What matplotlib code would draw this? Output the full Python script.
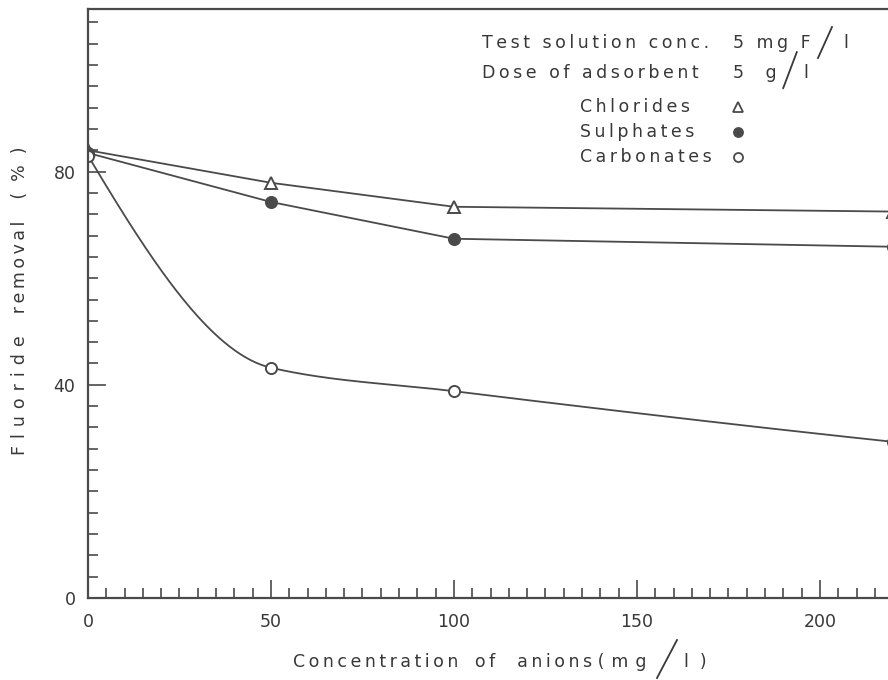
import numpy as np
import matplotlib
matplotlib.use('Agg')
import matplotlib.pyplot as plt
from matplotlib.lines import Line2D
from matplotlib.ticker import MultipleLocator

# concentration of anions (mg/l)
conc = [0, 50, 100, 220]
chlorides = [84.0, 77.9, 73.4, 72.5]
sulphates = [83.5, 74.3, 67.4, 65.9]
carbonates = [83.0, 43.2, 38.8, 29.3]

x_ticks = [0, 50, 100, 150, 200]
y_ticks = [0, 40, 80]

ink = '#4a4a4a'
txt = '#383838'
THIN = '\u2009'


def spaced(s, n=1):
    # wide lettering like the stencil text in the scan
    return (THIN * n).join(s)


def pchip(x, y, xs):
    # monotone cubic through the measured points, only used to draw the curve
    x = np.asarray(x, float)
    y = np.asarray(y, float)
    h = np.diff(x)
    d = np.diff(y) / h
    m = np.zeros_like(y)
    for k in range(1, len(x) - 1):
        if d[k - 1] * d[k] > 0:
            w1 = 2 * h[k] + h[k - 1]
            w2 = h[k] + 2 * h[k - 1]
            m[k] = (w1 + w2) / (w1 / d[k - 1] + w2 / d[k])
    m[0] = ((2 * h[0] + h[1]) * d[0] - h[0] * d[1]) / (h[0] + h[1])
    if np.sign(m[0]) != np.sign(d[0]):
        m[0] = 0
    m[-1] = ((2 * h[-1] + h[-2]) * d[-1] - h[-1] * d[-2]) / (h[-1] + h[-2])
    if np.sign(m[-1]) != np.sign(d[-1]):
        m[-1] = 0
    idx = np.clip(np.searchsorted(x, xs) - 1, 0, len(x) - 2)
    t = (xs - x[idx]) / h[idx]
    h00 = 2 * t**3 - 3 * t**2 + 1
    h10 = t**3 - 2 * t**2 + t
    h01 = -2 * t**3 + 3 * t**2
    h11 = t**3 - t**2
    return h00 * y[idx] + h10 * h[idx] * m[idx] + h01 * y[idx + 1] + h11 * h[idx] * m[idx + 1]


plt.rcParams['font.family'] = ['DejaVu Sans']
fig = plt.figure(figsize=(8.88, 6.80), dpi=100)
ax = fig.add_axes([88 / 888, 1 - 598 / 680, 800 / 888, 589.5 / 680])

xs = np.linspace(conc[0], conc[-1], 600)
series = [(chlorides, '^', 'white'), (sulphates, 'o', ink), (carbonates, 'o', 'white')]
for vals, mk, fc in series:
    if vals is carbonates:
        ax.plot(xs, pchip(conc, vals, xs), color=ink, lw=1.3)
    else:
        ax.plot(conc, vals, color=ink, lw=1.3)
    ax.plot(conc, vals, linestyle='none', marker=mk, ms=8 if mk == 'o' else 9,
            mfc=fc, mec=ink, mew=1.4)

ax.set_xlim(0, 218.6)
ax.set_ylim(0, 110.6)
ax.spines['right'].set_visible(False)
for s in ['left', 'bottom', 'top']:
    ax.spines[s].set_color(ink)
    ax.spines[s].set_linewidth(1.6)

ax.xaxis.set_minor_locator(MultipleLocator(5))
ax.yaxis.set_minor_locator(MultipleLocator(4))
ax.set_xticks(x_ticks)
ax.set_yticks(y_ticks)
ax.tick_params(which='both', direction='in', color=ink, width=1.2, top=False, right=False,
               labelcolor=txt, labelsize=12.5)
ax.tick_params(which='major', length=13)
ax.tick_params(which='minor', length=7)
ax.tick_params(axis='x', pad=11)
ax.tick_params(axis='y', pad=9)

# axis titles (the big slashes are drawn as strokes, like the hand lettering)
ax.set_xlabel(spaced('Concentration') + '   ' + spaced('of') + '    ' + spaced('anions')
              + ' ' + spaced('(mg', 2), fontsize=12.5, color=txt)
ax.xaxis.set_label_coords((293 - 88) / 800, -0.109)
ax.xaxis.label.set_va('center')
ax.xaxis.label.set_ha('left')
ax.text((684 - 88) / 800, -0.109, 'l  )', transform=ax.transAxes,
        fontsize=12.5, color=txt, va='center')
fig.add_artist(Line2D([657 / 888, 677 / 888], [1 - 678 / 680, 1 - 640 / 680],
                      transform=fig.transFigure, color=txt, lw=1.3))
ax.set_ylabel(spaced('Fluoride', 2) + '    ' + spaced('removal') + '    ' + '(  %  )',
              fontsize=12.5, color=txt)
ax.yaxis.set_label_coords(-0.085, 0.505)
ax.yaxis.label.set_va('center')

# key block
tkw = dict(transform=ax.transAxes, fontsize=12.5, color=txt, va='center')
ax.text(0.4925, 0.9415, spaced('Test solution conc.'), **tkw)
ax.text(0.806, 0.9415, spaced('5 mg F'), **tkw)
ax.plot([0.9125, 0.930], [0.916, 0.9686], transform=ax.transAxes, color=txt, lw=1.3)
ax.text(0.944, 0.9415, 'l', **tkw)
ax.text(0.4925, 0.8906, spaced('Dose of adsorbent'), **tkw)
ax.text(0.806, 0.8906, spaced('5  g'), **tkw)
ax.plot([0.869, 0.886], [0.865, 0.926], transform=ax.transAxes, color=txt, lw=1.3)
ax.text(0.894, 0.8906, 'l', **tkw)
names = ['Chlorides', 'Sulphates', 'Carbonates']
ys = [0.833, 0.790, 0.748]
for (vals, mk, fc), name, yy in zip(series, names, ys):
    ax.text(0.615, yy, spaced(name), **tkw)
    ax.plot([0.8125], [yy], transform=ax.transAxes, marker=mk, ms=7 if mk == '^' else 6.5,
            mfc=fc, mec=ink, mew=1.3, linestyle='none', clip_on=False)

fig.savefig('out.png', dpi=100, facecolor='white')
